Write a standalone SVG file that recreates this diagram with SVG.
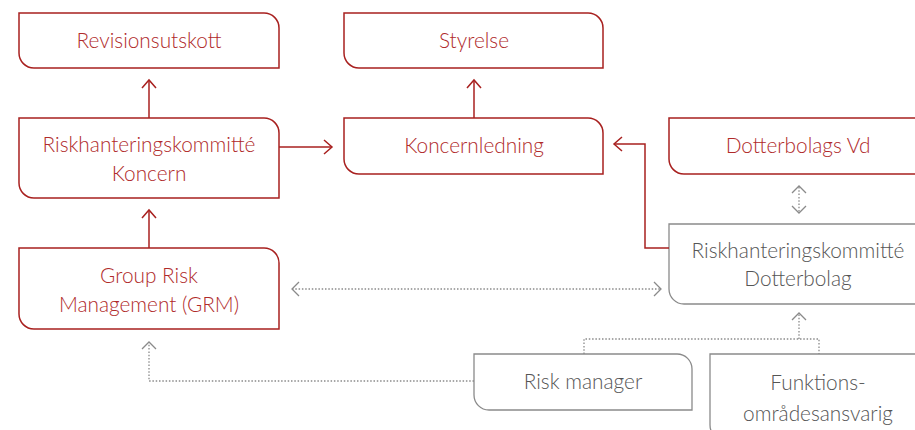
<svg xmlns="http://www.w3.org/2000/svg" width="915" height="430" viewBox="0 0 915 430">
<style>
.r{fill:#fff;stroke:#a8201f;stroke-width:1.5}
.g{fill:#fff;stroke:#8a8a8a;stroke-width:1.3}
.tr{font-family:Lato,"Open Sans",sans-serif;font-weight:300;font-size:20.8px;fill:#b02a2a;text-anchor:middle}
.tg{font-family:Lato,"Open Sans",sans-serif;font-weight:300;font-size:20.8px;fill:#555;text-anchor:middle}
.cr{fill:none;stroke:#a8201f;stroke-width:1.5}
.cg{fill:none;stroke:#8a8a8a;stroke-width:1.3;stroke-dasharray:1.5 1.8}
.hr{fill:none;stroke:#a8201f;stroke-width:1.5}
.hg{fill:none;stroke:#8a8a8a;stroke-width:1.3}
</style>
<rect width="915" height="430" fill="#fff"/>
<g id="revisionsutskott"><path class="r" d="M19,13H264A15,15 0 0 1 279,28V68H34A15,15 0 0 1 19,53Z"/><text class="tr" x="149" y="48">Revisionsutskott</text></g>
<g id="styrelse"><path class="r" d="M344,13H588A15,15 0 0 1 603,28V68H359A15,15 0 0 1 344,53Z"/><text class="tr" x="474" y="48">Styrelse</text></g>
<g id="riskkoncern"><path class="r" d="M19,118H264A15,15 0 0 1 279,133V198H34A15,15 0 0 1 19,183Z"/><text class="tr" x="149" y="152">Riskhanteringskommitté</text><text class="tr" x="149" y="181">Koncern</text></g>
<g id="koncernledning"><path class="r" d="M344,118H588A15,15 0 0 1 603,133V174H359A15,15 0 0 1 344,159Z"/><text class="tr" x="474" y="153">Koncernledning</text></g>
<g id="dotterbolagsvd"><path class="r" d="M669,118H920V174H684A15,15 0 0 1 669,159Z"/><text class="tr" x="798" y="153">Dotterbolags Vd</text></g>
<g id="grm"><path class="r" d="M19,248H264A15,15 0 0 1 279,263V329H34A15,15 0 0 1 19,314Z"/><text class="tr" x="149" y="283">Group Risk</text><text class="tr" x="149" y="312">Management (GRM)</text></g>
<g id="riskdotter"><path class="g" d="M669,224H920V304H684A15,15 0 0 1 669,289Z"/><text class="tg" x="798" y="258">Riskhanteringskommitté</text><text class="tg" x="798" y="286">Dotterbolag</text></g>
<g id="riskmanager"><path class="g" d="M474,354H677A15,15 0 0 1 692,369V410H489A15,15 0 0 1 474,395Z"/><text class="tg" x="583" y="389">Risk manager</text></g>
<g id="funktions"><path class="g" d="M710,354H920V440H725A15,15 0 0 1 710,425Z"/><text class="tg" x="818" y="390">Funktions-</text><text class="tg" x="818" y="421">områdesansvarig</text></g>
<g id="connectors">
<path class="cr" d="M149,118V80"/><path class="hr" d="M142,88L149,80L156,88"/>
<path class="cr" d="M474,118V80"/><path class="hr" d="M467,88L474,80L481,88"/>
<path class="cr" d="M279,147H332"/><path class="hr" d="M324,140L332,147L324,154"/>
<path class="cr" d="M149,248V210"/><path class="hr" d="M142,218L149,210L156,218"/>
<path class="cr" d="M669,248H645V144H614"/><path class="hr" d="M622,137L614,144L622,151"/>
<path class="cg" d="M799,187V212"/><path class="hg" d="M792,193L799,186L806,193M792,206L799,213L806,206"/>
<path class="cg" d="M292,289H661"/><path class="hg" d="M299,282L292,289L299,296M654,282L661,289L654,296"/>
<path class="cg" d="M474,381H149V342"/><path class="hg" d="M142,349L149,342L156,349"/>
<path class="cg" d="M584,354V339H819V354M799,339V313"/><path class="hg" d="M792,320L799,313L806,320"/>
</g>
</svg>
